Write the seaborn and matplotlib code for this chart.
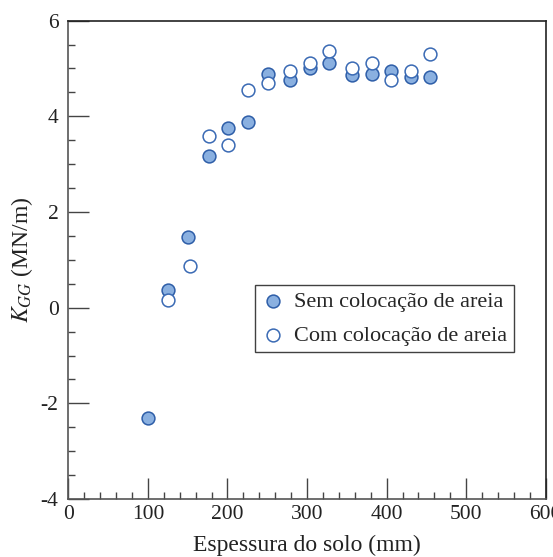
import matplotlib
matplotlib.use("Agg")
import matplotlib.pyplot as plt
from matplotlib.ticker import MultipleLocator
import pandas as pd
import seaborn as sns

# Soil thickness (mm) and stiffness K_GG (MN/m)
sem_x = [100, 125, 150, 177, 201, 226, 251, 279, 304, 328, 356, 381, 405, 430, 455]
sem_y = [-2.31, 0.37, 1.48, 3.18, 3.76, 3.88, 4.89, 4.76, 5.01, 5.12, 4.87, 4.89, 4.94, 4.83, 4.83]
com_x = [125, 153, 177, 201, 226, 251, 279, 304, 328, 356, 381, 405, 430, 455]
com_y = [0.17, 0.88, 3.59, 3.41, 4.54, 4.70, 4.94, 5.12, 5.36, 5.00, 5.12, 4.76, 4.94, 5.30]

label_sem = "Sem colocação de areia"
label_com = "Com colocação de areia"
x_ticks = [0, 100, 200, 300, 400, 500, 600]
y_ticks = [-4, -2, 0, 2, 4, 6]

sns.set_theme(style="white")
plt.rcParams["font.family"] = ["Liberation Serif", "DejaVu Serif"]
plt.rcParams["mathtext.fontset"] = "stix"

sem = pd.DataFrame({"x": sem_x, "y": sem_y})
com = pd.DataFrame({"x": com_x, "y": com_y})

fig = plt.figure(figsize=(5.53, 5.57), dpi=100)
ax = fig.add_axes([0.1235, 0.104, 0.8635, 0.859])

sns.scatterplot(data=sem, x="x", y="y", ax=ax, s=85, color="#8AB0E0",
                edgecolor="#2E5EA8", linewidth=1.1, label=label_sem, zorder=3)
sns.scatterplot(data=com, x="x", y="y", ax=ax, s=85, color="white",
                edgecolor="#3A6AB4", linewidth=1.1, label=label_com, zorder=4)

ax.set_xlim(0, 600)
ax.set_ylim(-4, 6)
ax.set_xticks(x_ticks)
ax.set_yticks(y_ticks)
ax.set_xticklabels([str(t) for t in x_ticks])
ax.set_yticklabels([str(t) for t in y_ticks])
ax.xaxis.set_minor_locator(MultipleLocator(20))
ax.yaxis.set_minor_locator(MultipleLocator(0.5))
ax.tick_params(which="both", direction="in", bottom=True, left=True,
               top=False, right=False, colors="#444444", labelcolor="#222222",
               labelsize=15.5)
ax.tick_params(which="major", length=15, width=1.0, pad=7)
ax.tick_params(axis="x", which="major", pad=4)
ax.tick_params(which="minor", length=5, width=1.0)

for side in ["top", "right"]:
    ax.spines[side].set_color("#222222")
for side in ["left", "bottom"]:
    ax.spines[side].set_color("#555555")
for sp in ax.spines.values():
    sp.set_linewidth(1.2)

ax.set_xlabel("Espessura do solo (mm)", fontsize=17, color="#222222", labelpad=8)
ax.set_ylabel(r"$K_{GG}$ (MN/m)", fontsize=17, color="#222222", labelpad=4)

leg = ax.legend(loc="upper left", bbox_to_anchor=(0.391, 0.448), borderaxespad=0,
                fontsize=16, frameon=True, fancybox=False, handletextpad=0.45,
                handlelength=1.0, labelspacing=0.6, borderpad=0.3)
leg.get_frame().set_edgecolor("#111111")
leg.get_frame().set_linewidth(1.0)
for h in leg.legend_handles:
    h.set_sizes([85])

fig.savefig("out.png", dpi=100)
